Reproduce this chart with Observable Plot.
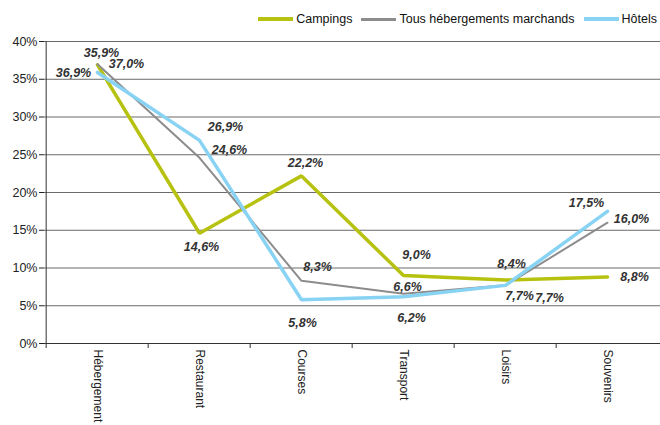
<!DOCTYPE html>
<html><head><meta charset="utf-8">
<script src="https://cdn.jsdelivr.net/npm/d3@7"></script>
<script src="https://cdn.jsdelivr.net/npm/@observablehq/plot@0.6"></script>
<style>
body{margin:0;background:#fff;font-family:"Liberation Sans",Arial,sans-serif;}
#wrap{position:relative;width:660px;height:425px;overflow:hidden;}
#legend{position:absolute;top:12px;right:3px;display:flex;align-items:center;font-size:12.5px;color:#111;}
.item{display:flex;align-items:center;margin-left:9px;}
.sw{width:35px;margin-right:3px;}
#chart{position:absolute;left:0;top:0;}
</style></head>
<body><div id="wrap"><div id="chart"></div><div id="legend"></div></div>
<script>
const categories = ["Hébergement","Restaurant","Courses","Transport","Loisirs","Souvenirs"];
const campings = [36.9, 14.6, 22.2, 9.0, 8.4, 8.8];
const tous = [37.0, 24.6, 8.3, 6.6, 7.7, 16.0];
const hotels = [35.9, 26.9, 5.8, 6.2, 7.7, 17.5];
const seriesNames = ["Campings", "Tous hébergements marchands", "Hôtels"];
const yTicks = [0, 5, 10, 15, 20, 25, 30, 35, 40];

// label offsets (pixels), kept apart from the data
const campingsDx = [-24, 2, 4, 13, 6, 27], campingsDy = [8, 14, -13, -21, -16, 0];
const tousDx = [29, 30, 16, 4, 44, 24], tousDy = [0, -8, -14, -7, 13, -4];
const hotelsDx = [4, 26, 1, 8, 14, -21], hotelsDy = [-19, -13, 23, 21, 11, -8];

const colors = ["#b6c20f", "#8c8c8c", "#88d3f3"];
const widths = [3.5, 2, 3.5];

const W = 660, H = 425, mL = 44, mR = 0, mT = 41, mB = 82;
const bw = (W - mL - mR) / categories.length;

const seriesVals = [campings, tous, hotels];
const dxs = [campingsDx, tousDx, hotelsDx], dys = [campingsDy, tousDy, hotelsDy];
const rows = seriesVals.flatMap((vals, s) => vals.map((v, i) => ({series: seriesNames[s], s, cat: categories[i], v, dx: dxs[s][i], dy: dys[s][i]})));
const fmt = v => v.toFixed(1).replace(".", ",") + "%";

const marks = [
  Plot.ruleY(yTicks.filter(t => t > 0), {stroke: "#6a6a6a", strokeWidth: 1}),
  Plot.axisY(yTicks, {tickFormat: d => d + "%", tickSize: 5, tickPadding: 2, fontSize: 12.5, color: "#222", label: null}),
  Plot.axisX({tickSize: 0, tickRotate: 90, fontSize: 12, tickPadding: 6, color: "#222", label: null}),
  Plot.axisX({tickSize: 5, text: null, dx: -bw / 2, color: "#333", label: null}),
  Plot.ruleX([categories[0]], {dx: -bw / 2, stroke: "#333"}),
  Plot.ruleY([0], {stroke: "#333"}),
  ...seriesVals.map((vals, s) => Plot.line(rows.filter(r => r.s === s), {x: "cat", y: "v", stroke: colors[s], strokeWidth: widths[s], strokeLinejoin: "miter"})),
  ...rows.map(r => Plot.text([r], {x: "cat", y: "v", text: d => fmt(d.v), dx: r.dx, dy: r.dy, fontSize: 12.5, fontWeight: "bold", fontStyle: "italic", fill: "#333"}))
];

const chart = Plot.plot({
  width: W, height: H, marginLeft: mL, marginRight: mR, marginTop: mT, marginBottom: mB,
  style: {fontFamily: "'Liberation Sans', Arial, sans-serif", background: "transparent", overflow: "visible"},
  x: {type: "band", domain: categories, padding: 0},
  y: {domain: [0, 40]},
  marks
});
document.getElementById("chart").appendChild(chart);

const legend = document.getElementById("legend");
seriesNames.forEach((n, s) => {
  const it = document.createElement("div"); it.className = "item";
  const sw = document.createElement("div"); sw.className = "sw";
  sw.style.height = (s === 1 ? 3 : 4) + "px"; sw.style.background = colors[s];
  const t = document.createElement("span"); t.textContent = n;
  it.appendChild(sw); it.appendChild(t); legend.appendChild(it);
});
</script></body></html>
